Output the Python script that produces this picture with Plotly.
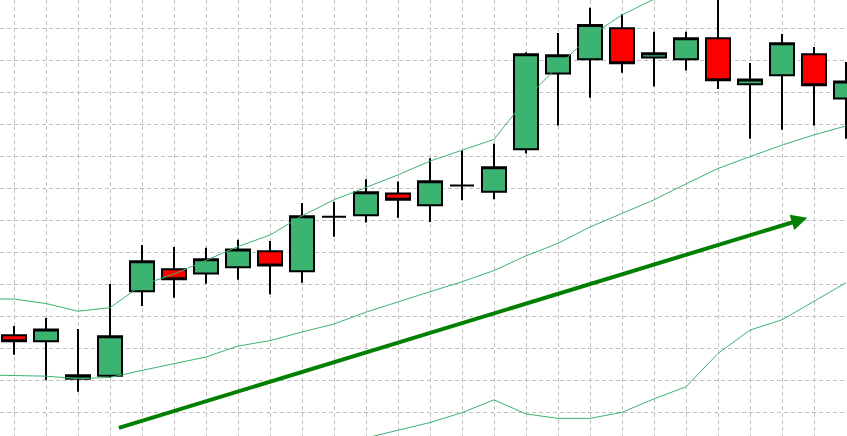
import plotly.graph_objects as go

# Candles (index 0..26)
candle_x = list(range(27))
opens  = [34.0, 32.1, 20.4, 21.3, 47.7, 54.6, 53.3, 55.2, 60.2, 54.0, 71.0, 71.5, 78.3, 74.6, 80.8, 78.8,
          92.1, 115.8, 120.2, 129.9, 120.8, 120.2, 126.8, 112.4, 115.2, 121.8, 108.0]
highs  = [36.9, 39.4, 35.9, 50.0, 62.2, 61.6, 61.3, 63.8, 63.4, 75.3, 75.7, 82.7, 82.0, 89.3, 91.7, 93.8,
          122.4, 128.4, 136.3, 134.4, 128.8, 128.8, 141.0, 119.1, 128.1, 124.1, 119.4]
lows   = [27.9, 20.0, 16.3, 20.8, 43.1, 45.7, 50.1, 51.3, 46.8, 50.4, 64.8, 69.2, 70.7, 69.4, 76.2, 76.5,
          90.8, 99.5, 108.2, 116.0, 111.7, 116.7, 110.9, 95.4, 98.2, 99.5, 95.4]
closes = [32.1, 35.8, 21.5, 33.7, 57.1, 51.5, 57.7, 60.8, 55.8, 71.2, 71.0, 78.7, 76.3, 82.1, 80.8, 86.5,
          121.8, 121.5, 130.9, 119.0, 122.1, 126.8, 113.7, 113.9, 125.2, 112.1, 113.3]

# Bollinger bands (index -1..26)
band_x = list(range(-1, 27))
upper_band = [45.3, 45.3, 43.9, 41.5, 42.6, 49.7, 53.1, 57.5, 61.7, 65.3, 71.3, 76.3, 80.3, 84.1, 88.4, 91.9,
              95.2, 107.8, 118.1, 127.4, 134.1, 139.0, 144.7, 143.9, 144.0, 148.0, 148.7, 148.4]
middle_band = [21.6, 21.4, 21.2, 20.4, 20.8, 23.0, 25.0, 27.2, 30.6, 32.3, 35.0, 37.5, 41.2, 44.5, 47.6, 50.7,
               54.2, 58.8, 62.7, 67.8, 72.0, 76.3, 81.3, 86.1, 89.8, 93.4, 96.6, 99.4]
lower_band = [-2.1, -2.5, -1.5, -0.7, -1.0, -3.7, -3.1, -3.1, -0.5, -0.7, -1.3, -1.3, 1.9, 4.3, 6.7, 9.8,
              13.8, 9.4, 8.0, 8.0, 9.9, 14.1, 17.9, 28.3, 35.6, 38.8, 44.5, 50.4]

# Trend arrow (start -> end), data units
arrow_start = (3.23, 4.9)
arrow_end = (24.79, 70.7)

BAND = "#3CB371"
fig = go.Figure()
for vals in (upper_band, middle_band, lower_band):
    fig.add_trace(go.Scatter(x=band_x, y=vals, mode="lines",
                             line=dict(color=BAND, width=1), hoverinfo="skip", showlegend=False))

fig.add_trace(go.Candlestick(
    x=candle_x, open=opens, high=highs, low=lows, close=closes,
    increasing=dict(fillcolor="#3CB371", line=dict(color="black", width=2)),
    decreasing=dict(fillcolor="#FF0000", line=dict(color="black", width=2)),
    whiskerwidth=0, showlegend=False))

fig.add_annotation(x=arrow_end[0], y=arrow_end[1], ax=arrow_start[0], ay=arrow_start[1],
                   xref="x", yref="y", axref="x", ayref="y", text="", showarrow=True,
                   arrowhead=2, arrowsize=0.8, arrowwidth=4, arrowcolor="#008000", standoff=0)

grid = dict(showgrid=True, gridcolor="#c0c0c0", gridwidth=1, griddash="4px,3px",
            showticklabels=False, zeroline=False, ticks="", showline=False)
fig.update_layout(
    width=847, height=436, margin=dict(l=0, r=0, t=0, b=0),
    plot_bgcolor="white", paper_bgcolor="white",
    boxgap=0.25, boxgroupgap=0,
    xaxis=dict(range=[-0.4375, 26.03125], tick0=0, dtick=1, rangeslider=dict(visible=False), **grid),
    yaxis=dict(range=[2.5, 138.75], tick0=0, dtick=10, **grid),
)
fig.write_html("out.html", config={"displayModeBar": False},
               post_script="document.body.style.margin='0';document.body.style.overflow='hidden';")
